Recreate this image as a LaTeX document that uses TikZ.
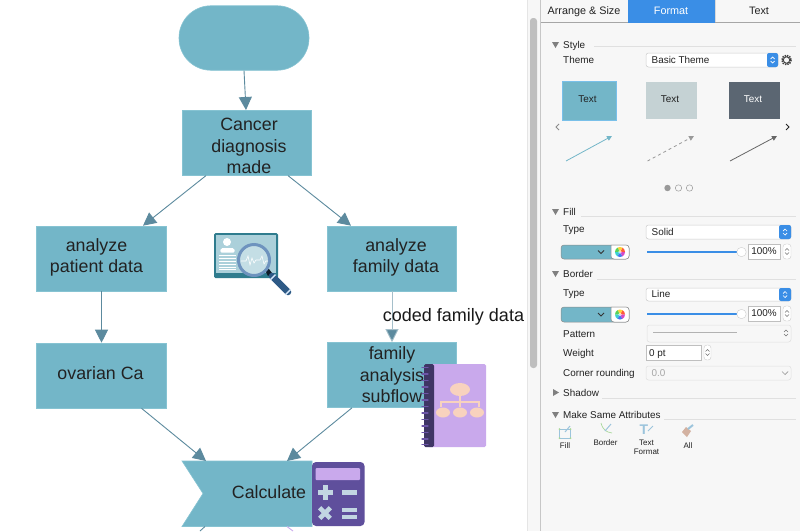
\documentclass[tikz,border=0pt]{standalone}
\usepackage{fontspec}
\setmainfont{Liberation Sans}
\usetikzlibrary{arrows.meta,shapes.geometric}
\definecolor{teal}{HTML}{73B6C8}
\definecolor{tealedge}{HTML}{86C3D2}
\definecolor{arrowc}{HTML}{5C8A9E}
\definecolor{panelbg}{HTML}{F7F7F7}
\definecolor{blue}{HTML}{3A8EE6}
\definecolor{sep}{HTML}{E0E0E0}
\definecolor{lab}{HTML}{222222}
\definecolor{bookp}{HTML}{C9A9EC}
\definecolor{bookd}{HTML}{3F3565}
\definecolor{ringc}{HTML}{6C55A8}
\definecolor{peach}{HTML}{F8D2BE}
\definecolor{calc}{HTML}{5F4F9C}
\definecolor{calcs}{HTML}{C2D6E2}
\definecolor{mon}{HTML}{2F7C8E}
\definecolor{monl}{HTML}{ABD0DA}
\definecolor{lens}{HTML}{6E93BE}
\definecolor{handle}{HTML}{2E5A86}
\definecolor{themeb}{HTML}{C5D2D4}
\definecolor{themec}{HTML}{5B6672}
\definecolor{softb}{HTML}{9CC4DC}
\definecolor{softg}{HTML}{A8D89A}
\newcommand{\wheelat}[2]{%
 \begin{scope}[shift={(#1,#2)},x=1pt,y=1pt]
 \foreach \aa/\cc in {0/FF5A3C,60/FFD23C,120/5AD25A,180/3CD2D2,240/4678F0,300/D24BC8}{
  \definecolor{wc}{HTML}{\cc}
  \fill[wc] (0,0) -- (\aa:5) arc[start angle=\aa,end angle=\aa+60,radius=5] -- cycle;}
 \fill[white,opacity=.6] (0,0) circle[radius=1.8];
 \end{scope}}
\newcommand{\spinat}[2]{%
 \draw[black!55,line width=.55pt] (#1-2,#2-1) -- (#1,#2-3) -- (#1+2,#2-1);
 \draw[black!55,line width=.55pt] (#1-2,#2+1) -- (#1,#2+3) -- (#1+2,#2+1);}
\newcommand{\wspinat}[2]{%
 \draw[white,line width=.7pt] (#1-2,#2-1) -- (#1,#2-3) -- (#1+2,#2-1);
 \draw[white,line width=.7pt] (#1-2,#2+1) -- (#1,#2+3) -- (#1+2,#2+1);}
\tikzset{
 flowbox/.style={draw=tealedge,fill=teal,line width=.6pt,minimum width=129.5pt,minimum height=65pt,inner sep=0pt,text=lab,font=\fontsize{17.8}{21.5}\selectfont,align=center},
 conn/.style={draw=arrowc,line width=.9pt,-{Triangle[length=13pt,width=13pt,fill=arrowc]}},
 plab/.style={font=\fontsize{9.9}{11}\selectfont,text=lab,inner sep=0pt,text height=8pt,text depth=1.5pt},
 lleft/.style={plab,anchor=west},
 tabl/.style={plab,font=\fontsize{10.8}{12}\selectfont},
 small/.style={plab,font=\fontsize{8}{9.5}\selectfont,text height=,text depth=},
 hrule/.style={draw=sep,line width=.8pt},
 tri/.style={fill=black!50,draw=none},
 combo/.style={draw=black!20,fill=white,rounded corners=2.5pt,line width=.5pt},
 stepper/.style={fill=blue,rounded corners=2pt,draw=none},
 swatch/.style={draw=black!45,fill=teal,rounded corners=3pt,line width=.5pt},
 field/.style={draw=black!25,fill=white,line width=.5pt},
 slider/.style={draw=blue,line width=1.2pt},
 knob/.style={draw=black!20,fill=white,line width=.4pt},
 disabledc/.style={draw=black!12,fill=panelbg,rounded corners=2.5pt,line width=.5pt},
}
\begin{document}
\begin{tikzpicture}[x=1pt,y=-1pt]
\useasboundingbox (0,0) rectangle (800,531);
\fill[white] (0,0) rectangle (800,531);
% scrollbar
\fill[black!3] (527,0) rectangle (540,531);
\draw[black!10,line width=.5pt] (527,0) -- (527,531);
\fill[black!25,rounded corners=3pt] (530,18) rectangle (537,368);
% panel
\fill[panelbg] (540,0) rectangle (800,531);
\draw[black!22,line width=.8pt] (540.5,0) -- (540.5,531);
% flow nodes
\node[draw=tealedge,fill=teal,line width=.6pt,rounded corners=32pt,minimum width=130pt,minimum height=64.5pt,inner sep=0pt] (start) at (244,38) {};
\node[flowbox,anchor=north] (cancer) at (247,110) {\raisebox{0pt}[39.5pt][20.5pt]{\kern4pt\begin{tabular}{@{}c@{}}Cancer\\diagnosis\\made\end{tabular}}};
\node[flowbox] (patient) at (101.5,258.5) {\raisebox{0pt}[33.5pt][26.5pt]{\begin{tabular}{@{}c@{}}analyze\\patient data\end{tabular}\kern10pt}};
\node[flowbox] (family) at (392,258.5) {\raisebox{0pt}[33.5pt][26.5pt]{\kern8pt\begin{tabular}{@{}c@{}}analyze\\family data\end{tabular}}};
\node[flowbox] (ovarian) at (101.5,375.5) {\raisebox{0pt}[33.5pt][26.5pt]{ovarian Ca\kern2pt}};
\node[flowbox] (subflow) at (392,375) {family\\analysis\\subflow};
\path[draw=tealedge,fill=teal,line width=.6pt] (182,461) -- (312,461) -- (312,526.5) -- (182,526.5) -- (203,493.5) -- cycle;
\node[inner sep=0pt,text=lab,font=\fontsize{17.8}{21}\selectfont,anchor=center] (calctxt) at (269,492) {Calculate};
\coordinate (calcT) at (247,461);
\coordinate (calcB) at (247,526.5);
\coordinate (edgeL) at (200,531);
\coordinate (edgeR) at (293,531);
% connectors
\draw[conn] ([xshift=0pt]start.south) -- ([xshift=-1pt]cancer.north);
\draw[conn] ([xshift=-41pt]cancer.south) -- ([xshift=41.5pt]patient.north);
\draw[conn] ([xshift=41pt]cancer.south) -- ([xshift=-41pt]family.north);
\draw[conn] (patient.south) -- (ovarian.north);
\draw[conn,draw=arrowc!55] (family.south) -- (subflow.north);
\draw[conn] ([xshift=40pt]ovarian.south) -- ([xshift=-41pt]calcT);
\draw[conn] ([xshift=-40pt]subflow.south) -- ([xshift=40pt]calcT);
\draw[draw=arrowc,line width=.9pt] ([xshift=-42pt]calcB) -- (edgeL);
\draw[draw=bookp,line width=.9pt] ([xshift=40pt]calcB) -- (edgeR);
\node[inner sep=0pt,text=black!90,font=\fontsize{18}{21}\selectfont] (codedlab) at (453.5,316.5) {coded family data};
% monitor icon
\fill[mon,rounded corners=1.5pt] (214,233) rectangle (278,278);
\fill[monl] (216,235) rectangle (276,273);
\fill[white] (227,242) circle[radius=4];
\fill[white,rounded corners=1.5pt] (220,252.5) -- (221,248) -- (234,248) -- (235,252.5) -- cycle;
\foreach \yy in {254.5,257.5,260.5,263.5,266.5,269} \fill[white] (219,\yy) rectangle (236,\yy+1.2);
\fill[black!70!handle] (265,270) -- (269,269) -- (272,273) -- (268,276) -- cycle;
\draw[handle,line width=6.5pt,line cap=round] (272,276) -- (288,292);
\draw[white!80!blue,line width=1.4pt] (270.5,279.5) -- (275.5,274.5);
\draw[white!80!blue,line width=1.4pt] (285.5,294.5) -- (290.5,289.5);
\draw[lens,line width=3pt,fill=monl!70!white] (254,260) circle[radius=15.5];
\draw[white,line width=.6pt] (241,261) -- (246,261) -- (248,256) -- (250,265) -- (252,258) -- (254,263) -- (256,260) -- (260,260) -- (262,256) -- (264,264) -- (266,261) -- (268,261);
% book icon
\fill[bookp,rounded corners=1.5pt] (428,364) rectangle (486,447);
\fill[bookd,rounded corners=1.5pt] (424,364) rectangle (434,447);
\foreach \yy in {368,374.5,381,387.5,394,400.5,407,413.5,420,426.5,433,439.5,445} \draw[ringc,line width=1.3pt,line cap=round] (422,\yy-.5) -- (428,\yy-.5);
\fill[peach] (460,389.5) ellipse[x radius=10,y radius=6.5];
\fill[peach] (443,412.5) ellipse[x radius=7,y radius=5];
\fill[peach] (460,412.5) ellipse[x radius=7,y radius=5];
\fill[peach] (477,412.5) ellipse[x radius=7,y radius=5];
\draw[peach,line width=1.3pt] (460,396) -- (460,407);
\draw[peach,line width=1.3pt] (441,407) -- (441,402) -- (479,402) -- (479,407);
% calculator icon
\fill[calc,rounded corners=4pt] (312,462) rectangle (364.5,526);
\fill[bookp,rounded corners=1pt] (315.5,468) rectangle (360,480);
\fill[calcs] (322.5,484.5) rectangle (327.5,499.5);
\fill[calcs] (317.5,489.5) rectangle (332.5,494.5);
\fill[calcs] (342,489.5) rectangle (357,494.5);
\begin{scope}[shift={(325,513)},rotate=45]
\fill[calcs] (-7.5,-2.3) rectangle (7.5,2.3);
\fill[calcs] (-2.3,-7.5) rectangle (2.3,7.5);
\end{scope}
\fill[calcs] (342,508) rectangle (357,512);
\fill[calcs] (342,515) rectangle (357,519);
% tabs
\fill[black!3] (541,0) rectangle (800,22);
\fill[blue] (628,0) rectangle (715,22.5);
\draw[black!35,line width=.7pt] (541,22.5) -- (628,22.5);
\draw[black!35,line width=.7pt] (715,22.5) -- (800,22.5);
\draw[black!15,line width=.5pt] (715.5,0) -- (715.5,22);
\node[tabl] (t1) at (584,11) {Arrange \& Size};
\node[tabl,text=white] (t2) at (671,11) {Format};
\node[tabl] (t3) at (759,11) {Text};
% style section
\fill[tri] (552,42) -- (559,42) -- (555.5,48) -- cycle;
\node[lleft] at (563,45) {Style};
\draw[hrule] (594,46.5) -- (796,46.5);
\node[lleft] at (563,60) {Theme};
\draw[combo] (646,53) rectangle (778,67);
\fill[stepper] (767,53) rectangle (778,67);
\node[lleft] at (651.5,60) {Basic Theme};
\wspinat{772.5}{60}
\draw[black!75,line width=1.6pt,dash pattern=on 1.4pt off 1pt] (786.5,60) circle[radius=4.6];
\draw[black!75,line width=.9pt] (786.5,60) circle[radius=3.2];
\fill[teal] (562,81) rectangle (616,120);
\draw[cyan!60!blue!60,line width=.8pt] (562,81) rectangle (616,120);
\node[plab] at (587.5,99) {Text};
\fill[themeb] (646,81.5) rectangle (697,119);
\node[plab] at (670,99) {Text};
\fill[themec] (728.5,81.5) rectangle (780,119);
\node[plab,text=white] at (753,99) {Text};
\draw[black!45,line width=1pt] (559,124) -- (556,127) -- (559,130);
\draw[black!85,line width=1pt] (786,124) -- (789,127) -- (786,130);
\draw[teal,line width=.8pt,-{Triangle[length=5pt,width=5pt]}] (566,161) -- (612,136);
\draw[black!40,line width=.8pt,dashed,-{Triangle[length=5pt,width=5pt]}] (647.5,161) -- (694,136);
\draw[black!60,line width=.8pt,-{Triangle[length=5pt,width=5pt]}] (730,161) -- (777,136);
\fill[black!40] (667.5,188) circle[radius=3.2];
\draw[black!40,line width=.5pt] (678.5,188) circle[radius=3.2];
\draw[black!40,line width=.5pt] (689.5,188) circle[radius=3.2];
% fill section
\fill[tri] (552,209) -- (559,209) -- (555.5,215) -- cycle;
\node[lleft] at (563,212) {Fill};
\draw[hrule] (581,216.5) -- (796,216.5);
\node[lleft] at (563,229.5) {Type};
\draw[combo] (646,225) rectangle (791,239);
\fill[stepper] (779,225) rectangle (791,239);
\node[lleft] at (651.5,232) {Solid};
\wspinat{785}{232}
\draw[swatch] (561,245) rectangle (629,259);
\draw[black!45,fill=white,line width=.5pt] (611,245) [rounded corners=3pt] -- (629,245) -- (629,259) -- (611,259) [sharp corners] -- cycle;
\draw[black!80,line width=.9pt] (598,250.5) -- (601,253.5) -- (604,250.5);
\wheelat{620}{252}
\draw[slider] (647,252) -- (741,252);
\draw[knob] (741.5,252) circle[radius=4.7];
\draw[field] (748,244) rectangle (780,259);
\node[plab] at (764,251.5) {100\%};
\draw[black!20,fill=white,rounded corners=3pt,line width=.4pt] (783,244) rectangle (791,259);
\spinat{787}{251.5}
% border section
\fill[tri] (552,271) -- (559,271) -- (555.5,277) -- cycle;
\node[lleft] at (563,274) {Border};
\draw[hrule] (597,279.5) -- (796,279.5);
\node[lleft] at (563,293.5) {Type};
\draw[combo] (646,288) rectangle (791,301);
\fill[stepper] (779,288) rectangle (791,301);
\node[lleft] at (651.5,294.5) {Line};
\wspinat{785}{294.5}
\draw[swatch] (561,307) rectangle (629,322);
\draw[black!45,fill=white,line width=.5pt] (611,307) [rounded corners=3pt] -- (629,307) -- (629,322) -- (611,322) [sharp corners] -- cycle;
\draw[black!80,line width=.9pt] (598,313) -- (601,316) -- (604,313);
\wheelat{620}{314.5}
\draw[slider] (647,314) -- (741,314);
\draw[knob] (741.5,314) circle[radius=4.7];
\draw[field] (748,306) rectangle (780,321);
\node[plab] at (764,313.5) {100\%};
\draw[black!20,fill=white,rounded corners=3pt,line width=.4pt] (783,306) rectangle (791,321);
\spinat{787}{313.5}
\node[lleft] at (563,334) {Pattern};
\draw[disabledc] (647,325) rectangle (791,342);
\draw[black!30,line width=.9pt] (653,332) -- (737,332);
\spinat{786}{333}
\node[lleft] at (563,353.5) {Weight};
\draw[field] (646,345) rectangle (701,360);
\node[lleft] at (649,353) {0 pt};
\draw[black!20,fill=white,rounded corners=3pt,line width=.4pt] (704,345) rectangle (711,360);
\spinat{707.5}{352.5}
\node[lleft] at (563,373.5) {Corner rounding};
\draw[disabledc] (646,366) rectangle (791,380);
\node[lleft,text=black!35] at (651.5,373) {0.0};
\draw[black!40,line width=.7pt] (782,371.5) -- (785,374.5) -- (788,371.5);
% shadow
\fill[tri] (553,389) -- (553,396) -- (559,392.5) -- cycle;
\node[lleft] at (563,393) {Shadow};
\draw[hrule] (602,398.5) -- (796,398.5);
% same attributes
\fill[tri] (552,412) -- (559,412) -- (555.5,418) -- cycle;
\node[lleft] at (563,415) {Make Same Attributes};
\draw[hrule] (664,419.5) -- (796,419.5);
% attribute icons
\draw[softb,line width=.6pt] (559.5,429) rectangle (570.5,438);
\foreach \px/\py in {559.5/429,570.5/429,559.5/438,570.5/438} \fill[softg] (\px,\py) circle[radius=1];
\draw[softb,line width=1pt] (565,432) -- (570,426);
\draw[softg,line width=.7pt] (601,423) .. controls (603,430) and (606,432) .. (612,433);
\draw[softb,line width=1pt] (605,431) -- (611,424);
\node[inner sep=0pt,font=\bfseries\fontsize{14}{14}\selectfont,text=softb] at (644,430) {T};
\draw[softb,line width=1pt] (648,431) -- (653,426);
\fill[peach!85!black] (682,432) -- (686,427) -- (691,431) -- (687,437) -- cycle;
\draw[softb,line width=2pt] (688,429) -- (693,425);
\node[small] at (565,446) {Fill};
\node[small] at (605.5,442.5) {Border};
\node[small,align=center] at (646.5,447.5) {Text\\Format};
\node[small] at (688,446) {All};
\end{tikzpicture}
\end{document}
